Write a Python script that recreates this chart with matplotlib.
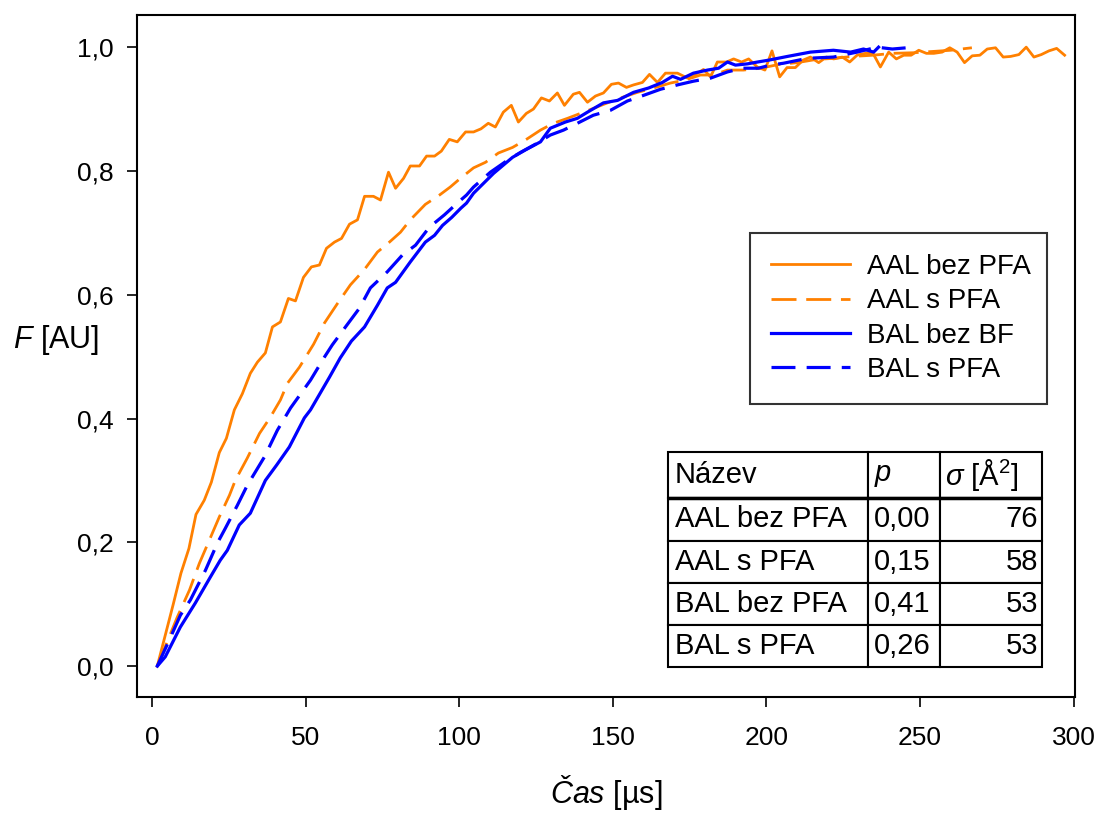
import matplotlib
matplotlib.use('Agg')
import matplotlib.pyplot as plt

plt.rcParams['font.family'] = ['Liberation Sans', 'DejaVu Sans']
plt.rcParams['mathtext.fontset'] = 'custom'
plt.rcParams['mathtext.rm'] = 'Liberation Sans'
plt.rcParams['mathtext.it'] = 'Liberation Sans:italic'

# AAL bez PFA (orange solid)
t_aal_bez = [1.6, 4.2, 6.8, 9.3, 11.9, 14.2, 16.9, 19.2, 21.8, 24.1, 26.7, 29.3, 31.9, 34.2,
             36.8, 39.1, 41.7, 44.3, 46.6, 49.2, 51.8, 54.4, 56.7, 59.3, 61.6, 64.2, 66.8,
             69.1, 72.0, 74.3, 76.9, 79.2, 81.8, 84.0, 87.0, 89.3, 91.9, 94.1, 96.7, 99.3,
             102.0, 104.6, 107.0, 109.4, 111.7, 114.3, 116.9, 119.2, 121.8, 124.1, 126.7,
             129.3, 131.9, 134.2, 137.1, 139.1, 141.7, 144.3, 146.9, 149.5, 151.8, 154.4,
             156.7, 159.6, 161.9, 164.5, 167.1, 169.0, 171.0, 174.3, 176.9, 179.5, 181.8,
             184.0, 187.0, 189.3, 191.9, 194.2, 197.0, 199.5, 201.8, 204.3, 206.7, 209.4,
             211.9, 214.3, 217.0, 219.5, 221.9, 224.7, 227.1, 229.5, 232.2, 234.7, 237.1,
             239.8, 242.3, 244.7, 247.1, 249.6, 252.1, 254.5, 257.2, 259.7, 262.1, 264.5,
             267.0, 269.5, 271.9, 274.6, 277.1, 279.5, 282.2, 284.6, 287.1, 289.5, 292.0,
             294.5, 297.1]
f_aal_bez = [0.0, 0.05, 0.10, 0.15, 0.19, 0.245, 0.268, 0.297, 0.345, 0.368, 0.414, 0.44, 0.473,
             0.491, 0.506, 0.548, 0.556, 0.594, 0.590, 0.628, 0.645, 0.648, 0.675, 0.685, 0.691,
             0.714, 0.721, 0.759, 0.759, 0.753, 0.798, 0.772, 0.788, 0.808, 0.808, 0.824, 0.824,
             0.832, 0.851, 0.847, 0.863, 0.863, 0.868, 0.877, 0.871, 0.895, 0.906, 0.879, 0.893,
             0.900, 0.918, 0.913, 0.926, 0.906, 0.924, 0.927, 0.911, 0.921, 0.926, 0.940, 0.942,
             0.935, 0.939, 0.943, 0.956, 0.943, 0.958, 0.958, 0.958, 0.950, 0.956, 0.964, 0.952,
             0.976, 0.976, 0.981, 0.976, 0.981, 0.968, 0.963, 0.994, 0.952, 0.967, 0.967, 0.979,
             0.984, 0.975, 0.984, 0.981, 0.984, 0.976, 0.987, 0.990, 0.990, 0.968, 0.992, 0.981,
             0.987, 0.987, 0.995, 0.990, 0.990, 0.992, 0.999, 0.992, 0.975, 0.986, 0.987, 0.997,
             0.999, 0.984, 0.985, 0.988, 1.0, 0.984, 0.988, 0.994, 0.998, 0.987]

# AAL s PFA (orange dashed)
t_aal_s = [1.6, 8.1, 12.1, 15.3, 18.6, 21.8, 25.1, 27.0, 30.9, 34.9, 38.4, 41.7, 44.0, 47.9,
           52.5, 56.0, 60.3, 64.5, 69.1, 73.3, 77.2, 80.8, 84.0, 88.9, 93.5, 97.0, 100.3, 104.6,
           108.5, 112.7, 117.3, 121.5, 126.4, 130.6, 135.2, 139.4, 143.6, 148.2, 153.1, 158.0,
           163.2, 168.7, 173.6, 178.5, 182.7, 187.3, 192.5, 198.0, 204.0, 210.0, 216.0, 222.0,
           228.0, 234.7, 241.0, 248.0, 254.0, 260.0, 266.9]
f_aal_s = [0.0, 0.079, 0.123, 0.166, 0.204, 0.241, 0.276, 0.300, 0.336, 0.376, 0.402, 0.430,
           0.457, 0.483, 0.520, 0.554, 0.586, 0.616, 0.641, 0.669, 0.685, 0.701, 0.721, 0.746,
           0.761, 0.774, 0.788, 0.805, 0.814, 0.829, 0.838, 0.850, 0.866, 0.877, 0.885, 0.893,
           0.901, 0.910, 0.919, 0.927, 0.934, 0.942, 0.947, 0.955, 0.955, 0.963, 0.963, 0.966,
           0.972, 0.975, 0.980, 0.982, 0.985, 0.987, 0.990, 0.991, 0.993, 0.995, 0.999]

# BAL bez BF (blue solid)
t_bal_bez = [1.6, 4.2, 9.1, 14.0, 18.9, 22.1, 24.4, 28.3, 31.9, 36.8, 40.5, 44.6, 49.5, 51.5,
             57.7, 61.2, 64.8, 69.1, 73.3, 76.5, 79.2, 84.0, 88.9, 91.9, 94.5, 97.5, 100.5,
             102.3, 104.6, 111.1, 117.3, 121.5, 126.4, 129.6, 134.5, 138.4, 141.7, 146.9,
             151.5, 156.7, 161.6, 166.1, 169.4, 172.0, 176.2, 180.8, 184.4, 187.3, 189.9,
             193.8, 197.1, 200.7, 206.8, 214.3, 221.8, 227.4, 231.6, 234.9, 236.5]
f_bal_bez = [0.0, 0.015, 0.063, 0.102, 0.144, 0.171, 0.187, 0.228, 0.247, 0.300, 0.325, 0.354,
             0.401, 0.414, 0.467, 0.498, 0.525, 0.548, 0.583, 0.611, 0.620, 0.653, 0.685, 0.696,
             0.712, 0.725, 0.740, 0.748, 0.764, 0.796, 0.822, 0.834, 0.847, 0.869, 0.879, 0.885,
             0.895, 0.910, 0.914, 0.927, 0.934, 0.943, 0.953, 0.948, 0.958, 0.963, 0.966, 0.976,
             0.971, 0.973, 0.976, 0.979, 0.985, 0.992, 0.995, 0.992, 0.997, 0.992, 1.0]

# BAL s PFA (blue dashed)
t_bal_s = [1.6, 5.5, 9.1, 12.4, 17.3, 21.2, 23.8, 27.7, 30.9, 36.5, 40.7, 45.0, 51.5, 56.0,
           58.6, 62.9, 67.4, 71.0, 76.5, 81.4, 85.7, 90.2, 95.1, 99.3, 102.3, 104.6, 110.1,
           115.6, 119.9, 125.4, 129.6, 133.9, 138.4, 143.6, 149.2, 154.7, 159.9, 165.5, 171.0,
           176.2, 181.8, 187.3, 192.2, 197.4, 201.3, 205.5, 213.4, 221.8, 229.5, 236.0, 241.0,
           248.0]
f_bal_s = [0.0, 0.042, 0.082, 0.107, 0.155, 0.199, 0.223, 0.260, 0.292, 0.338, 0.381, 0.417,
           0.462, 0.499, 0.519, 0.548, 0.578, 0.611, 0.637, 0.664, 0.680, 0.709, 0.729, 0.748,
           0.761, 0.774, 0.798, 0.817, 0.830, 0.845, 0.858, 0.866, 0.877, 0.890, 0.898, 0.913,
           0.922, 0.932, 0.939, 0.945, 0.950, 0.960, 0.966, 0.966, 0.971, 0.974, 0.982, 0.984,
           0.992, 1.0, 0.997, 1.0]

table_rows = ['AAL bez PFA', 'AAL s PFA', 'BAL bez PFA', 'BAL s PFA']
table_p = ['0,00', '0,15', '0,41', '0,26']
table_sigma = ['76', '58', '53', '53']

orange = '#ff8000'
blue = '#0000ff'

fig = plt.figure(figsize=(10.98, 8.14), dpi=100)
ax = fig.add_axes([0.1248, 0.1437, 0.8543, 0.8379])

ax.plot(t_aal_bez, f_aal_bez, color=orange, lw=2.0, label='AAL bez PFA')
ax.plot(t_aal_s, f_aal_s, color=orange, lw=2.0, dashes=(9, 3.5), label='AAL s PFA')
ax.plot(t_bal_bez, f_bal_bez, color=blue, lw=2.3, label='BAL bez BF')
ax.plot(t_bal_s, f_bal_s, color=blue, lw=2.3, dashes=(7.5, 3.5), label='BAL s PFA')

ax.set_xlim(-5, 300.5)
ax.set_ylim(-0.05, 1.052)
ax.set_xticks([0, 50, 100, 150, 200, 250, 300])
ax.set_yticks([0, 0.2, 0.4, 0.6, 0.8, 1.0])
ax.set_yticklabels(['0,0', '0,2', '0,4', '0,6', '0,8', '1,0'])
ax.tick_params(axis='both', direction='out', length=7, width=1.2, labelsize=19)
ax.tick_params(axis='x', pad=14)
ax.tick_params(axis='y', pad=10)
for s in ax.spines.values():
    s.set_linewidth(1.5)

ax.set_xlabel(r'$\mathit{Čas}$ [µs]', fontsize=22, va='top')
ax.xaxis.set_label_coords(0.5, -0.112)
ax.set_ylabel(r'$F$ [AU]', fontsize=22, rotation=0, va='center', ha='center')
ax.yaxis.set_label_coords(-0.086, 0.523)

leg = ax.legend(loc='upper left', bbox_to_anchor=(0.6535, 0.680, 0.3166, 0.0), mode='expand',
                fontsize=20, frameon=True, fancybox=False, edgecolor='black',
                handlelength=2.85, handletextpad=0.6, labelspacing=0.3, borderpad=0.75,
                borderaxespad=0)
leg.get_frame().set_linewidth(1.5)

cell_text = [['Název', '$p$', r'$\sigma$ [Å$^2$]']]
for name, p, sg in zip(table_rows, table_p, table_sigma):
    cell_text.append([name, p, sg])

tab = ax.table(cellText=cell_text, colWidths=[200, 72, 102],
               bbox=[0.566, 0.044, 0.399, 0.315], zorder=5)
tab.auto_set_font_size(False)
tab.set_fontsize(21)
for (r, c), cell in tab.get_celld().items():
    cell.set_linewidth(1.5)
    cell.set_edgecolor('black')
    cell.set_facecolor('white')
    if r == 0:
        cell.set_height(cell.get_height() * 46 / 42)
    if c == 0:
        cell.PAD = 0.035
        cell._loc = 'left'
        cell.set_text_props(ha='left')
    elif c == 1:
        cell.PAD = 0.08
        cell._loc = 'left'
        cell.set_text_props(ha='left')
    elif r == 0:
        cell.PAD = 0.05
        cell._loc = 'left'
        cell.set_text_props(ha='left')
    else:
        cell.PAD = 0.04
        cell._loc = 'right'
        cell.set_text_props(ha='right')

# thicker rule under the header row
ax.plot([0.566, 0.965], [0.2918, 0.2918], transform=ax.transAxes, color='black',
        lw=2.5, zorder=6, clip_on=False, solid_capstyle='butt')

fig.savefig('out.png', dpi=100)
